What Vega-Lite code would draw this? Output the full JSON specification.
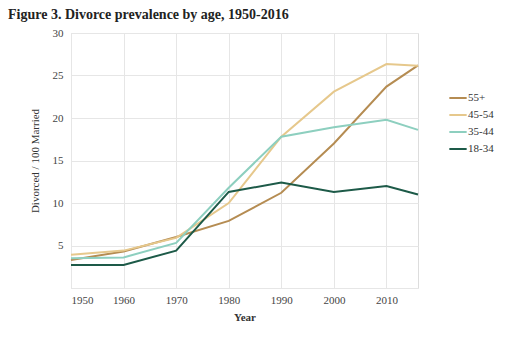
{
  "$schema": "https://vega.github.io/schema/vega-lite/v6.json",
  "autosize": "none",
  "width": 347,
  "height": 255,
  "padding": {"left": 71, "top": 33, "right": 94, "bottom": 56},
  "background": "white",
  "config": {
    "legend": {"labelFont": "Liberation Serif", "labelFontSize": 11}
  },
  "title": {
    "text": "Figure 3. Divorce prevalence by age, 1950-2016",
    "anchor": "start",
    "frame": "group",
    "font": "Liberation Serif",
    "fontSize": 14,
    "fontWeight": "bold",
    "color": "#222222",
    "dx": -63,
    "offset": 5
  },
  "data": {
    "values": [
      {"year": 1950, "group": "55+", "value": 3.3},
      {"year": 1960, "group": "55+", "value": 4.3},
      {"year": 1970, "group": "55+", "value": 6.0},
      {"year": 1980, "group": "55+", "value": 7.9},
      {"year": 1990, "group": "55+", "value": 11.2},
      {"year": 2000, "group": "55+", "value": 17.0},
      {"year": 2010, "group": "55+", "value": 23.7},
      {"year": 2016, "group": "55+", "value": 26.2},
      {"year": 1950, "group": "45-54", "value": 3.9},
      {"year": 1960, "group": "45-54", "value": 4.4},
      {"year": 1970, "group": "45-54", "value": 5.9},
      {"year": 1980, "group": "45-54", "value": 10.0},
      {"year": 1990, "group": "45-54", "value": 17.8},
      {"year": 2000, "group": "45-54", "value": 23.1},
      {"year": 2010, "group": "45-54", "value": 26.35},
      {"year": 2016, "group": "45-54", "value": 26.15},
      {"year": 1950, "group": "35-44", "value": 3.5},
      {"year": 1960, "group": "35-44", "value": 3.6},
      {"year": 1970, "group": "35-44", "value": 5.3},
      {"year": 1980, "group": "35-44", "value": 11.8},
      {"year": 1990, "group": "35-44", "value": 17.8},
      {"year": 2000, "group": "35-44", "value": 18.9},
      {"year": 2010, "group": "35-44", "value": 19.8},
      {"year": 2016, "group": "35-44", "value": 18.6},
      {"year": 1950, "group": "18-34", "value": 2.7},
      {"year": 1960, "group": "18-34", "value": 2.7},
      {"year": 1970, "group": "18-34", "value": 4.4},
      {"year": 1980, "group": "18-34", "value": 11.3},
      {"year": 1990, "group": "18-34", "value": 12.4},
      {"year": 2000, "group": "18-34", "value": 11.3},
      {"year": 2010, "group": "18-34", "value": 12.0},
      {"year": 2016, "group": "18-34", "value": 11.0}
    ]
  },
  "mark": {"type": "line", "strokeWidth": 2},
  "encoding": {
    "x": {
      "field": "year",
      "type": "quantitative",
      "scale": {"domain": [1950, 2016], "nice": false, "zero": false},
      "axis": {
        "values": [1950, 1960, 1970, 1980, 1990, 2000, 2010],
        "format": "d",
        "title": "Year",
        "titleFont": "Liberation Serif",
        "titleFontSize": 11,
        "titleFontWeight": "bold",
        "titleColor": "#333333",
        "titlePadding": 6,
        "labelFont": "Liberation Serif",
        "labelFontSize": 11,
        "labelColor": "#444444",
        "labelPadding": 6,
        "domain": false,
        "ticks": false,
        "gridColor": "#e6e6e6"
      }
    },
    "y": {
      "field": "value",
      "type": "quantitative",
      "scale": {"domain": [0, 30], "nice": false},
      "axis": {
        "values": [0, 5, 10, 15, 20, 25, 30],
        "labelExpr": "datum.value == 0 ? '' : datum.label",
        "title": "Divorced / 100 Married",
        "titleFont": "Liberation Serif",
        "titleFontSize": 11,
        "titleFontWeight": "normal",
        "titleColor": "#333333",
        "titlePadding": 12,
        "labelFont": "Liberation Serif",
        "labelFontSize": 11,
        "labelColor": "#444444",
        "labelPadding": 8,
        "domain": false,
        "ticks": false,
        "gridColor": "#e6e6e6"
      }
    },
    "color": {
      "field": "group",
      "type": "nominal",
      "scale": {
        "domain": ["55+", "45-54", "35-44", "18-34"],
        "range": ["#b58c52", "#e6c88c", "#8dcfbf", "#1d5a48"]
      },
      "legend": {
        "title": null,
        "orient": "none",
        "legendX": 377,
        "legendY": 55,
        "symbolType": "stroke",
        "symbolStrokeWidth": 2,
        "symbolSize": 300,
        "labelFont": "Liberation Serif",
        "labelFontSize": 11,
        "labelColor": "#333333",
        "rowPadding": 2,
        "labelOffset": 0
      }
    }
  }
}
